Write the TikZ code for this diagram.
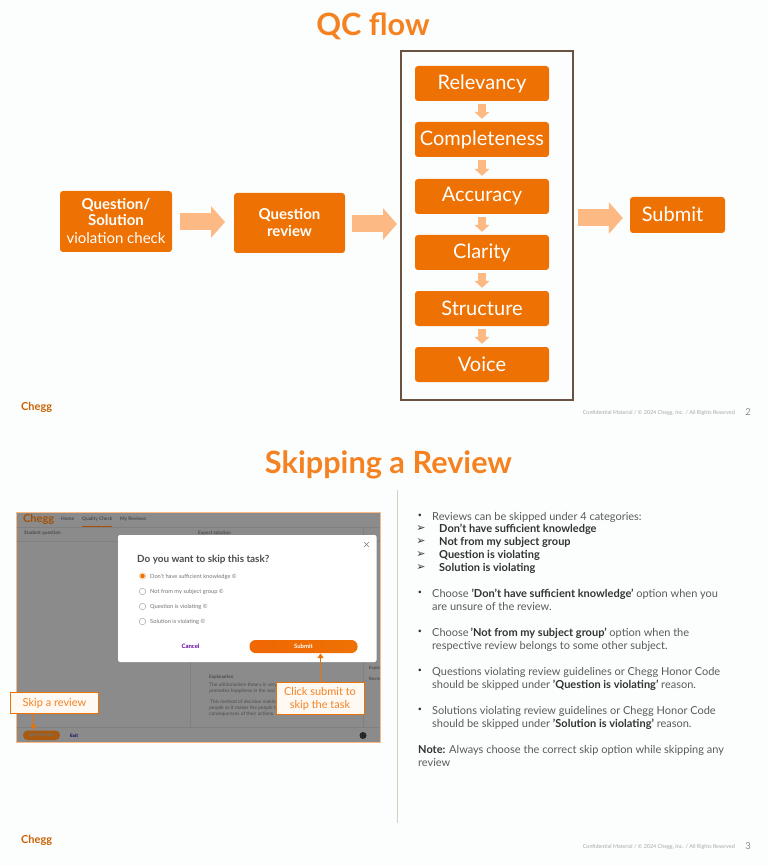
\documentclass[tikz,border=0pt]{standalone}
\usepackage{fontspec}
\setmainfont{Lato}
\newfontfamily\djv{DejaVu Sans}
\usetikzlibrary{arrows.meta,calc}
\definecolor{org}{HTML}{EE7203}
\definecolor{ttl}{HTML}{F58220}
\definecolor{lorg}{HTML}{FDB983}
\definecolor{brn}{HTML}{6B5344}
\definecolor{bgc}{HTML}{FCFEFE}
\definecolor{shot}{HTML}{8B8B8B}
\definecolor{bodyt}{HTML}{5A5A5A}
\definecolor{boldt}{HTML}{333333}
\definecolor{shbox}{HTML}{FFF9F4}
\definecolor{divc}{HTML}{C9D6C3}
\definecolor{skipb}{HTML}{A85A10}
\tikzset{
 x=1pt,y=-1pt,
 flowbox/.style={fill=org,rounded corners=3pt,text=white,align=center,inner sep=0pt},
 lvl/.style={flowbox,minimum width=134pt,minimum height=35pt,font=\fontsize{20}{22}\selectfont},
 bigarrow/.style={draw=lorg,line width=17pt,-{Triangle[length=14pt,width=31pt]}},
 smallarrow/.style={draw=lorg,line width=8pt,-{Triangle[length=7pt,width=15pt]}},
 title/.style={text=ttl,font=\fontsize{30.7}{34}\selectfont\bfseries,inner sep=0pt},
 logo/.style={text=org!85!black,font=\fontsize{11}{12}\selectfont\bfseries,inner sep=0pt,anchor=west},
 foot/.style={text=black!35,font=\fontsize{5.4}{6}\selectfont,inner sep=0pt,anchor=east},
 pageno/.style={text=black!45,font=\fontsize{9.5}{10}\selectfont,inner sep=0pt},
 txt/.style={text=bodyt,font=\fontsize{11}{12}\selectfont,inner sep=0pt,anchor=west,text height=8pt,text depth=2.5pt,yshift=-1.5pt},
 bul/.style={text=boldt,font=\fontsize{7}{8}\selectfont,inner sep=0pt,yshift=-1pt},
 arw/.style={text=boldt,font=\djv\fontsize{11}{12}\selectfont,inner sep=0pt,yshift=-1pt},
 ui/.style={text=black!70,font=\fontsize{5}{6}\selectfont,inner sep=0pt,anchor=west},
 uid/.style={text=black!55,font=\fontsize{5.7}{6}\selectfont,inner sep=0pt,anchor=west},
 radio/.style={circle,draw=black!35,fill=white,line width=.5pt,minimum size=6.5pt,inner sep=0pt},
 callout/.style={draw=org,fill=shbox,line width=.9pt,text=ttl,align=center,inner sep=0pt,font=\fontsize{11}{13}\selectfont},
 callarrow/.style={draw=org,line width=1pt,-{Triangle[length=4.5pt,width=6pt]}}
}
\newcommand{\B}[1]{\textcolor{boldt}{\bfseries #1}}
\begin{document}
\begin{tikzpicture}
\useasboundingbox (0,0) rectangle (768,866);
\fill[bgc] (0,0) rectangle (768,866);

% ---------- slide 2
\node[title] (t1) at (373,26) {QC flow};
\draw[brn,line width=2pt] (401,51) rectangle (573,400);
\node[flowbox,minimum width=112pt,minimum height=61pt,font=\fontsize{15}{17}\selectfont] (chk) at (116,221.5) {\raisebox{2pt}{\bfseries Question/}\\\raisebox{3pt}{\bfseries Solution}\\\raisebox{2pt}{violation check}};
\node[flowbox,minimum width=111pt,minimum height=60pt,font=\fontsize{15}{17}\selectfont\bfseries] (rev) at (289.5,223) {\raisebox{2pt}{Question}\\\raisebox{2pt}{review}};
\coordinate (fr1) at (401,224);
\coordinate (fr2) at (573,218);
\node[lvl] (a1) at (482,83.5) {Relevancy};
\node[lvl] (a2) at (482,139.5) {Completeness};
\node[lvl] (a3) at (482,196.5) {Accuracy};
\node[lvl] (a4) at (482,252.5) {Clarity};
\node[lvl] (a5) at (482,308.5) {Structure};
\node[lvl] (a6) at (482,364.5) {Voice};
\node[flowbox,minimum width=95pt,minimum height=36pt,font=\fontsize{20}{22}\selectfont] (sub) at (677.5,215) {\raisebox{2pt}{Submit}\hspace*{10pt}};
\draw[bigarrow] (chk.east |- 0,222) ++(8,0) -- (225,222);
\draw[bigarrow] (rev.east |- 0,224) ++(7,0) -- ($(fr1)+(-4,0)$);
\draw[bigarrow] ($(fr2)+(5,0)$) -- ($(sub.west |- fr2)+(-7,0)$);
\foreach \p/\q in {a1/a2,a2/a3,a3/a4,a4/a5,a5/a6}
  \draw[smallarrow] ($(\p.south)+(0,3)$) -- ($(\q.north)+(0,-3)$);
\node[logo] (l1) at (21,407) {Chegg};
\node[foot] (f1) at (735,413) {Confidential Material / © 2024 Chegg, Inc. / All Rights Reserved};
\node[pageno] (p1) at (748,412.5) {2};

% ---------- slide 3
\node[title] (t2) at (388.5,464.5) {Skipping a Review};
\draw[divc,line width=.8pt] (397.5,490) -- (397.5,823);

% screenshot
\fill[shot] (16.5,512) rectangle (380,742);
\draw[lorg,line width=.9pt] (16.5,512) rectangle (380,742);
\draw[black!50,line width=.25pt] (17,527) -- (380,527);
\draw[black!50,line width=.25pt] (17,541) -- (380,541);
\draw[black!50,line width=.25pt] (17,727) -- (380,727);
\draw[black!50,line width=.25pt] (190,541) -- (190,727);
\draw[black!50,line width=.25pt] (363,527) -- (363,727);
\node[text=org!70!black,font=\fontsize{11}{12}\selectfont\bfseries,inner sep=0pt,anchor=west] (sl) at (23,519) {Chegg};
\node[ui,font=\fontsize{4.8}{6}\selectfont\bfseries] (sh) at (61,519) {Home};
\node[ui,font=\fontsize{4.8}{6}\selectfont\bfseries] (sq) at (82,519) {Quality Check};
\draw[org!70!black,line width=.6pt] (82,526) -- (112,526);
\node[ui,font=\fontsize{4.8}{6}\selectfont\bfseries] (sm) at (120,519) {My Reviews};
\node[ui,font=\fontsize{4.8}{6}\selectfont\bfseries] (sa) at (24,533) {Student question};
\node[ui,font=\fontsize{4.8}{6}\selectfont\bfseries] (sb) at (198,533) {Expert solution};
\node[ui,font=\fontsize{4.6}{5}\selectfont\bfseries] (ex) at (209,677) {Explanation};
\node[ui,font=\fontsize{4.9}{5}\selectfont] (e1) at (209,685) {The utilitarianism theory is very};
\node[ui,font=\fontsize{4.9}{5}\selectfont] (e2) at (209,691) {promotes happiness in the soci};
\node[ui,font=\fontsize{4.9}{5}\selectfont] (e3) at (210,702) {This method of decision making};
\node[ui,font=\fontsize{4.9}{5}\selectfont] (e4) at (209,708) {people as it makes the people t};
\node[ui,font=\fontsize{4.9}{5}\selectfont] (e5) at (209,714) {consequences of their actions.};
\node[ui,font=\fontsize{4.4}{5}\selectfont\bfseries] (ey) at (369,668) {Expla};
\node[ui,font=\fontsize{4.4}{5}\selectfont\bfseries] (ez) at (369,679) {Revie};

% modal
\fill[white,rounded corners=2pt] (118,535) rectangle (376.5,662);
\draw[black!50,line width=.6pt] (364,542) -- (369,547) (369,542) -- (364,547);
\node[text=black!70,font=\fontsize{9.9}{11}\selectfont\bfseries,inner sep=0pt,anchor=west] (mt) at (137,560) {Do you want to skip this task?};
\node[radio,draw=org!50] (r1) at (142.5,576) {};
\fill[org] (r1) circle (2.3pt);
\node[radio] (r2) at (142.5,591.5) {};
\node[radio] (r3) at (142.5,606.5) {};
\node[radio] (r4) at (142.5,621.5) {};
\node[uid] (o1) at (150,576.5) {Don't have sufficient knowledge ©};
\node[uid] (o2) at (150,592) {Not from my subject group ©};
\node[uid] (o3) at (150,607) {Question is violating ©};
\node[uid] (o4) at (150,622) {Solution is violating ©};
\node[inner sep=0pt,text=violet!75!blue,font=\fontsize{6}{7}\selectfont\bfseries] (can) at (190.5,646.5) {Cancel};
\shade[left color=org!90!red,right color=org,rounded corners=6pt] (249.5,640) rectangle (357.5,653);
\node[inner sep=0pt,text=white,font=\fontsize{6}{7}\selectfont\bfseries] (sb2) at (303.5,646.5) {Submit};
\coordinate (subbtn) at (320.5,653.5);

% bottom bar of screenshot
\fill[skipb,rounded corners=4.5pt] (23,730.5) rectangle (60,740);
\node[inner sep=0pt,text=black!55,font=\fontsize{4.6}{5}\selectfont\bfseries] (skb) at (41.5,735.5) {Skip Review};
\node[inner sep=0pt,text=blue!35!black,font=\fontsize{4.6}{5}\selectfont\bfseries] (edt) at (74,735.5) {Exit};
\fill[black!85] (363,735.5) circle (3.5pt);

% callouts
\node[callout,minimum width=88pt,minimum height=21pt] (c1) at (54.5,703) {Skip a review};
\node[callout,minimum width=88pt,minimum height=32pt] (c2) at (320,698.5) {Click submit to\\skip the task};
\coordinate (skipbtn) at (33.5,729.5);
\coordinate (skiptop) at (33.5,713.5);
\draw[callarrow] (skiptop) -- (skipbtn);
\draw[callarrow] (c2.north -| subbtn) -- (subbtn);

% right column text
\node[bul] (b0) at (420,515) {•};
\node[txt] (x0) at (432,516) {Reviews can be skipped under 4 categories:};
\node[arw] (m1) at (421,528) {➢};
\node[txt] (x1) at (439,528.5) {\B{Don't have sufficient knowledge}};
\node[arw] (m2) at (421,541) {➢};
\node[txt] (x2) at (439,541.5) {\B{Not from my subject group}};
\node[arw] (m3) at (421,554) {➢};
\node[txt] (x3) at (439,554) {\B{Question is violating}};
\node[arw] (m4) at (421,567) {➢};
\node[txt] (x4) at (439,567) {\B{Solution is violating}};
\node[bul] (b1) at (420,592) {•};
\node[txt] (x5) at (432,593.5) {Choose \B{'Don't have sufficient knowledge'} option when you};
\node[txt] (x6) at (432,606.5) {are unsure of the review.};
\node[bul] (b2) at (420,631) {•};
\node[txt] (x7) at (432,632.5) {Choose\,\B{'Not from my subject group'} option when the};
\node[txt] (x8) at (432,645.5) {respective review belongs to some other subject.};
\node[bul] (b3) at (420,670) {•};
\node[txt] (x9) at (432,671.5) {Questions violating review guidelines or Chegg Honor Code};
\node[txt] (x10) at (432,684.5) {should be skipped under \B{'Question is violating'} reason.};
\node[bul] (b4) at (420,709) {•};
\node[txt] (x11) at (432,710.5) {Solutions violating review guidelines or Chegg Honor Code};
\node[txt] (x12) at (432,723) {should be skipped under \B{'Solution is violating'} reason.};
\node[txt] (x13) at (418,749.5) {\B{Note:} Always choose the correct skip option while skipping any};
\node[txt] (x14) at (418,762.5) {review};

\node[logo] (l2) at (21,840) {Chegg};
\node[foot] (f2) at (735,846.5) {Confidential Material / © 2024 Chegg, Inc. / All Rights Reserved};
\node[pageno] (p2) at (748,846) {3};
\end{tikzpicture}
\end{document}
